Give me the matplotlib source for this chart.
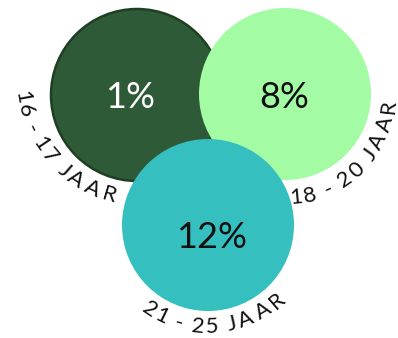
import numpy as np
import matplotlib
matplotlib.use("Agg")
import matplotlib.pyplot as plt
from matplotlib.patches import Circle
from matplotlib.textpath import TextPath
from matplotlib.font_manager import FontProperties

labels = ["16 - 17 JAAR", "18 - 20 JAAR", "21 - 25 JAAR"]
values = [1, 8, 12]

# layout (pixels, y down)
centers = [(137, 95), (285, 94), (208, 225)]
value_pos = [(130, 97), (284, 98), (212, 237)]
radius = 86
fills = ["#2f5a37", "#a3fca4", "#36bfbf"]
edges = ["#1f3f24", "none", "none"]
value_colors = ["white", "#111111", "#111111"]
# label arcs: center, radius, middle angle (deg, y down)
arcs = [((145, 75), 125, 138), ((287, 96), 102, 45), ((208, 221), 106, 86)]

FONT = "Lato"
W, H = 398, 338


def arc_text(ax, text, cx, cy, r, mid_deg, size, spacing=1.0):
    fp = FontProperties(family=FONT, size=size)
    px = 100 / 72
    widths = []
    for ch in text:
        if ch == " ":
            w = size * 0.3
        else:
            w = TextPath((0, 0), ch, prop=fp).get_extents().width + size * 0.12
        widths.append(w * px * spacing)
    total = sum(widths)
    # travel counterclockwise on screen = decreasing theta (y down)
    theta = np.radians(mid_deg) + (total / 2) / r
    for ch, w in zip(text, widths):
        t = theta - (w / 2) / r
        x = cx + r * np.cos(t)
        y = cy + r * np.sin(t)
        rot = 90 - np.degrees(t)
        ax.text(x, y, ch, fontproperties=fp, color="#111111",
                rotation=rot, rotation_mode="anchor", ha="center", va="center")
        theta -= w / r


fig = plt.figure(figsize=(W / 100, H / 100), dpi=100)
ax = fig.add_axes([0, 0, 1, 1])
ax.set_xlim(0, W)
ax.set_ylim(H, 0)
ax.set_aspect("equal")
ax.axis("off")

for (cx, cy), (tx, ty), fc, ec, v, vc in zip(centers, value_pos, fills, edges, values, value_colors):
    ax.add_patch(Circle((cx, cy), radius, facecolor=fc, edgecolor=ec, linewidth=1.8))
    ax.text(tx, ty, f"{v}%", fontsize=26, family=FONT, color=vc,
            ha="center", va="center")

for lab, ((cx, cy), r, mid) in zip(labels, arcs):
    arc_text(ax, lab, cx, cy, r, mid, 16, spacing=1.1)

fig.savefig("out.png", dpi=100)
